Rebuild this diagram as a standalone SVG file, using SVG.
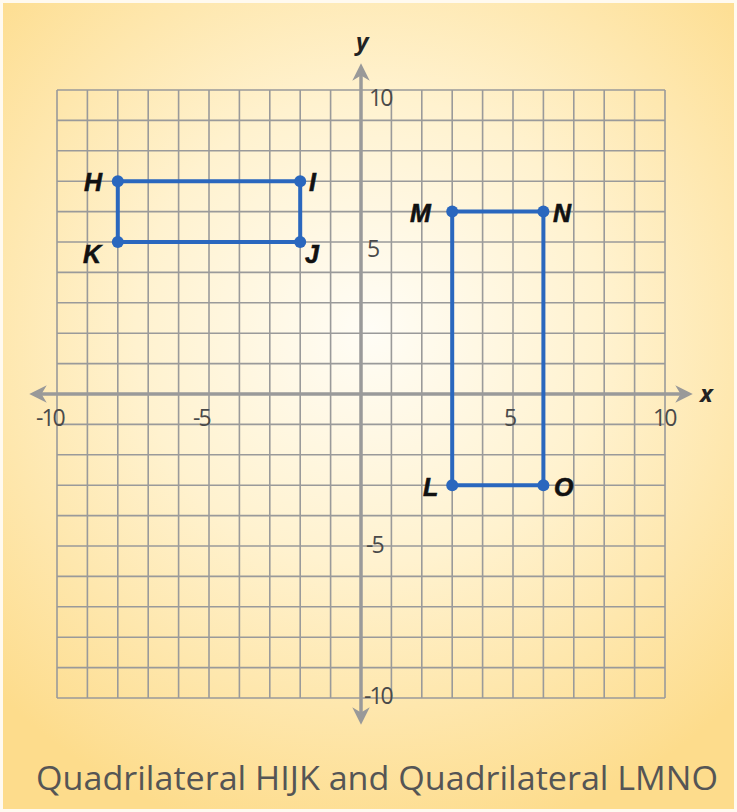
<svg xmlns="http://www.w3.org/2000/svg" width="737" height="812" viewBox="0 0 737 812">
<defs>
<radialGradient id="bg" cx="370" cy="330" r="520" gradientUnits="userSpaceOnUse">
<stop offset="0" stop-color="#fffdf6"/>
<stop offset="0.45" stop-color="#fff2cf"/>
<stop offset="1" stop-color="#fddc8c"/>
</radialGradient>
<marker id="arr" viewBox="0 0 10 10" refX="5" refY="5" markerWidth="5" markerHeight="5" orient="auto" markerUnits="strokeWidth">
<path d="M0,0 L10,5 L0,10 L3,5 z" fill="#999"/>
</marker>
</defs>
<style>
.grid line{stroke:#9a9a9a;stroke-width:1.6}
.axis{stroke:#9a9a9a;stroke-width:3.5;fill:none}
.num{font-family:"Open Sans","Liberation Sans",sans-serif;font-size:23px;fill:#4a4a4a;letter-spacing:-2px}
.pt{font-family:"Liberation Sans",Arial,sans-serif;font-size:25px;font-weight:bold;font-style:italic;fill:#111;stroke:#111;stroke-width:0.6}
.shape{stroke:#2a67be;stroke-width:4;fill:none}
.dot{fill:#2a67be}
</style>
<rect x="0" y="0" width="737" height="812" fill="#fffaf0"/>
<rect x="3" y="3" width="731" height="806" fill="url(#bg)"/>
<g id="grid" class="grid">
<line x1="57" y1="90" x2="57" y2="698"/><line x1="87.4" y1="90" x2="87.4" y2="698"/><line x1="117.8" y1="90" x2="117.8" y2="698"/><line x1="148.2" y1="90" x2="148.2" y2="698"/><line x1="178.6" y1="90" x2="178.6" y2="698"/><line x1="209" y1="90" x2="209" y2="698"/><line x1="239.4" y1="90" x2="239.4" y2="698"/><line x1="269.8" y1="90" x2="269.8" y2="698"/><line x1="300.2" y1="90" x2="300.2" y2="698"/><line x1="330.6" y1="90" x2="330.6" y2="698"/><line x1="391.4" y1="90" x2="391.4" y2="698"/><line x1="421.8" y1="90" x2="421.8" y2="698"/><line x1="452.2" y1="90" x2="452.2" y2="698"/><line x1="482.6" y1="90" x2="482.6" y2="698"/><line x1="513" y1="90" x2="513" y2="698"/><line x1="543.4" y1="90" x2="543.4" y2="698"/><line x1="573.8" y1="90" x2="573.8" y2="698"/><line x1="604.2" y1="90" x2="604.2" y2="698"/><line x1="634.6" y1="90" x2="634.6" y2="698"/><line x1="665" y1="90" x2="665" y2="698"/>
<line x1="57" y1="90" x2="665" y2="90"/><line x1="57" y1="120.4" x2="665" y2="120.4"/><line x1="57" y1="150.8" x2="665" y2="150.8"/><line x1="57" y1="181.2" x2="665" y2="181.2"/><line x1="57" y1="211.6" x2="665" y2="211.6"/><line x1="57" y1="242" x2="665" y2="242"/><line x1="57" y1="272.4" x2="665" y2="272.4"/><line x1="57" y1="302.8" x2="665" y2="302.8"/><line x1="57" y1="333.2" x2="665" y2="333.2"/><line x1="57" y1="363.6" x2="665" y2="363.6"/><line x1="57" y1="424.4" x2="665" y2="424.4"/><line x1="57" y1="454.8" x2="665" y2="454.8"/><line x1="57" y1="485.2" x2="665" y2="485.2"/><line x1="57" y1="515.6" x2="665" y2="515.6"/><line x1="57" y1="546" x2="665" y2="546"/><line x1="57" y1="576.4" x2="665" y2="576.4"/><line x1="57" y1="606.8" x2="665" y2="606.8"/><line x1="57" y1="637.2" x2="665" y2="637.2"/><line x1="57" y1="667.6" x2="665" y2="667.6"/><line x1="57" y1="698" x2="665" y2="698"/>
</g>
<g id="axes">
<line class="axis" x1="361" y1="394" x2="38" y2="394" marker-end="url(#arr)"/>
<line class="axis" x1="361" y1="394" x2="684" y2="394" marker-end="url(#arr)"/>
<line class="axis" x1="361" y1="394" x2="361" y2="72" marker-end="url(#arr)"/>
<line class="axis" x1="361" y1="394" x2="361" y2="716" marker-end="url(#arr)"/>
<text x="356" y="50" style="font-family:'Open Sans','Liberation Sans',sans-serif;font-size:24px;font-style:italic;font-weight:bold;fill:#222">y</text>
<text x="700" y="402" style="font-family:'Open Sans','Liberation Sans',sans-serif;font-size:24px;font-style:italic;font-weight:bold;fill:#222">x</text>
</g>
<g id="ticks">
<text class="num" x="369" y="106">10</text>
<text class="num" x="367" y="257">5</text>
<text class="num" x="36" y="426">-10</text>
<text class="num" x="193" y="426">-5</text>
<text class="num" x="504" y="426">5</text>
<text class="num" x="653" y="426">10</text>
<text class="num" x="366" y="553">-5</text>
<text class="num" x="364" y="704">-10</text>
</g>
<g id="HIJK">
<polygon class="shape" points="117.8,181.2 300.2,181.2 300.2,242 117.8,242"/>
<circle class="dot" cx="117.8" cy="181.2" r="6"/><circle class="dot" cx="300.2" cy="181.2" r="6"/><circle class="dot" cx="300.2" cy="242" r="6"/><circle class="dot" cx="117.8" cy="242" r="6"/>
<text class="pt" x="84" y="191">H</text>
<text class="pt" x="309" y="191">I</text>
<text class="pt" x="305" y="263">J</text>
<text class="pt" x="83" y="263">K</text>
</g>
<g id="LMNO">
<polygon class="shape" points="452.2,211.6 543.4,211.6 543.4,485.2 452.2,485.2"/>
<circle class="dot" cx="452.2" cy="211.6" r="6"/><circle class="dot" cx="543.4" cy="211.6" r="6"/><circle class="dot" cx="543.4" cy="485.2" r="6"/><circle class="dot" cx="452.2" cy="485.2" r="6"/>
<text class="pt" x="410" y="222">M</text>
<text class="pt" x="553" y="222">N</text>
<text class="pt" x="423" y="496">L</text>
<text class="pt" x="554" y="496">O</text>
</g>
<text x="36" y="790" textLength="682" lengthAdjust="spacingAndGlyphs" style="font-family:'Open Sans','Liberation Sans',sans-serif;font-size:32px;fill:#555">Quadrilateral HIJK and Quadrilateral LMNO</text>
</svg>
